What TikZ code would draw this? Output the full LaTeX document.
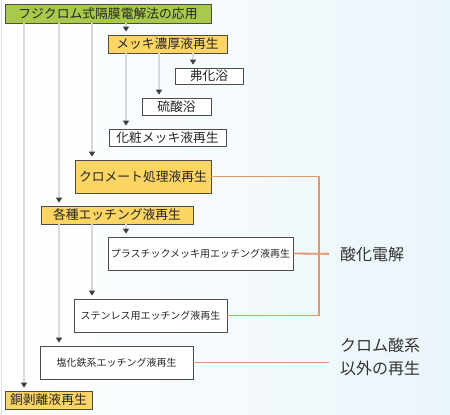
\documentclass[tikz,border=0pt]{standalone}
\usepackage{fontspec}
\setmainfont{Noto Sans CJK JP}
\usetikzlibrary{arrows.meta}
\definecolor{xanhla}{HTML}{A9C94A}
\definecolor{vang}{HTML}{FCD565}
\definecolor{cam}{HTML}{E0976B}
\definecolor{nen}{HTML}{EAF5FB}
\tikzset{
  hop/.style={draw=black!70, line width=0.7pt, inner sep=0pt, text=black!85,
    font=\fontsize{12.8}{14}\selectfont},
  hopnho/.style={hop, fill=white, font=\fontsize{10}{12}\selectfont},
  noi/.style={draw=black!15, line width=1.2pt, shorten >=3pt,
    -{Triangle[width=6pt,length=5pt,color=black!75]}},
  nhanh/.style={draw=cam, line width=1.8pt},
  nhan/.style={inner sep=0pt, text=black!80, font=\fontsize{16}{23}\selectfont}
}
\begin{document}
\begin{tikzpicture}[x=1pt, y=-1pt]
    % Nền
    \useasboundingbox (0,0) rectangle (450,415);
    \shade[left color=white, right color=nen] (0,0) rectangle (450,415);
    \draw[black!12, line width=1pt] (1.5,0) -- (1.5,415);
    % Các hộp
    \node[hop, fill=xanhla, minimum width=206pt, minimum height=19pt] (goc) at (108,13.5) {フジクロム式隔膜電解法の応用};
    \node[hop, fill=vang, minimum width=119pt, minimum height=18pt] (mekki) at (167.5,44) {メッキ濃厚液再生};
    \node[hop, fill=white, minimum width=68pt, minimum height=16pt] (futsu) at (209,76) {弗化浴};
    \node[hop, fill=white, minimum width=69pt, minimum height=17pt] (ryusan) at (176.5,106.5) {硫酸浴};
    \node[hop, fill=white, minimum width=117pt, minimum height=17pt] (kesho) at (167.5,137.5) {化粧メッキ液再生};
    \node[hop, fill=vang, minimum width=136pt, minimum height=33pt] (cromat) at (143,176.5) {クロメート処理液再生};
    \node[hop, fill=vang, minimum width=152pt, minimum height=18pt] (etching) at (117,215) {各種エッチング液再生};
    \node[hopnho, minimum width=185pt, minimum height=33pt] (nhua) at (200.5,253.5) {プラスチックメッキ用エッチング液再生};
    \node[hopnho, minimum width=153pt, minimum height=33pt] (inox) at (150.5,315.5) {ステンレス用エッチング液再生};
    \node[hopnho, minimum width=153pt, minimum height=33pt] (sat) at (116.5,362.5) {塩化鉄系エッチング液再生};
    \node[hop, fill=vang, minimum width=87pt, minimum height=18pt] (dong) at (48.5,400) {銅剥離液再生};
    % Các đường dọc
    \coordinate (c1) at (24,0);
    \coordinate (c2) at (59,0);
    \coordinate (c3) at (92,0);
    \coordinate (c4) at (126,0);
    \coordinate (c5) at (159,0);
    \coordinate (c6) at (193,0);
    \draw[noi] (goc.south -| c1) -- (dong.north -| c1);
    \draw[noi] (goc.south -| c2) -- (etching.north -| c2);
    \draw[noi] (etching.south -| c2) -- (sat.north -| c2);
    \draw[noi] (goc.south -| c3) -- (cromat.north -| c3);
    \draw[noi] (goc.south -| c4) -- (mekki.north -| c4);
    \draw[noi] (mekki.south -| c4) -- (kesho.north -| c4);
    \draw[noi] (mekki.south -| c5) -- (ryusan.north -| c5);
    \draw[noi] (mekki.south -| c6) -- (futsu.north -| c6);
    \draw[noi] (etching.south -| c4) -- (nhua.north -| c4);
    \draw[noi] (etching.south -| c3) -- (inox.north -| c3);
    % Nhãn bên phải
    \node[nhan, anchor=west] (oxyhoa) at (340,254) {酸化電解};
    \node[nhan, anchor=west, align=left] (khac) at (340,357) {クロム酸系\\以外の再生};
    \coordinate (ngoac) at (319,0);
    \draw[nhanh] (cromat.east) -- (cromat.east -| ngoac) |- (inox.east);
    \draw[nhanh, shorten >=11pt] (nhua.east) -- (oxyhoa.west);
    \draw[nhanh] (sat.east) -- (sat.east -| 329,0);
\end{tikzpicture}
\end{document}
